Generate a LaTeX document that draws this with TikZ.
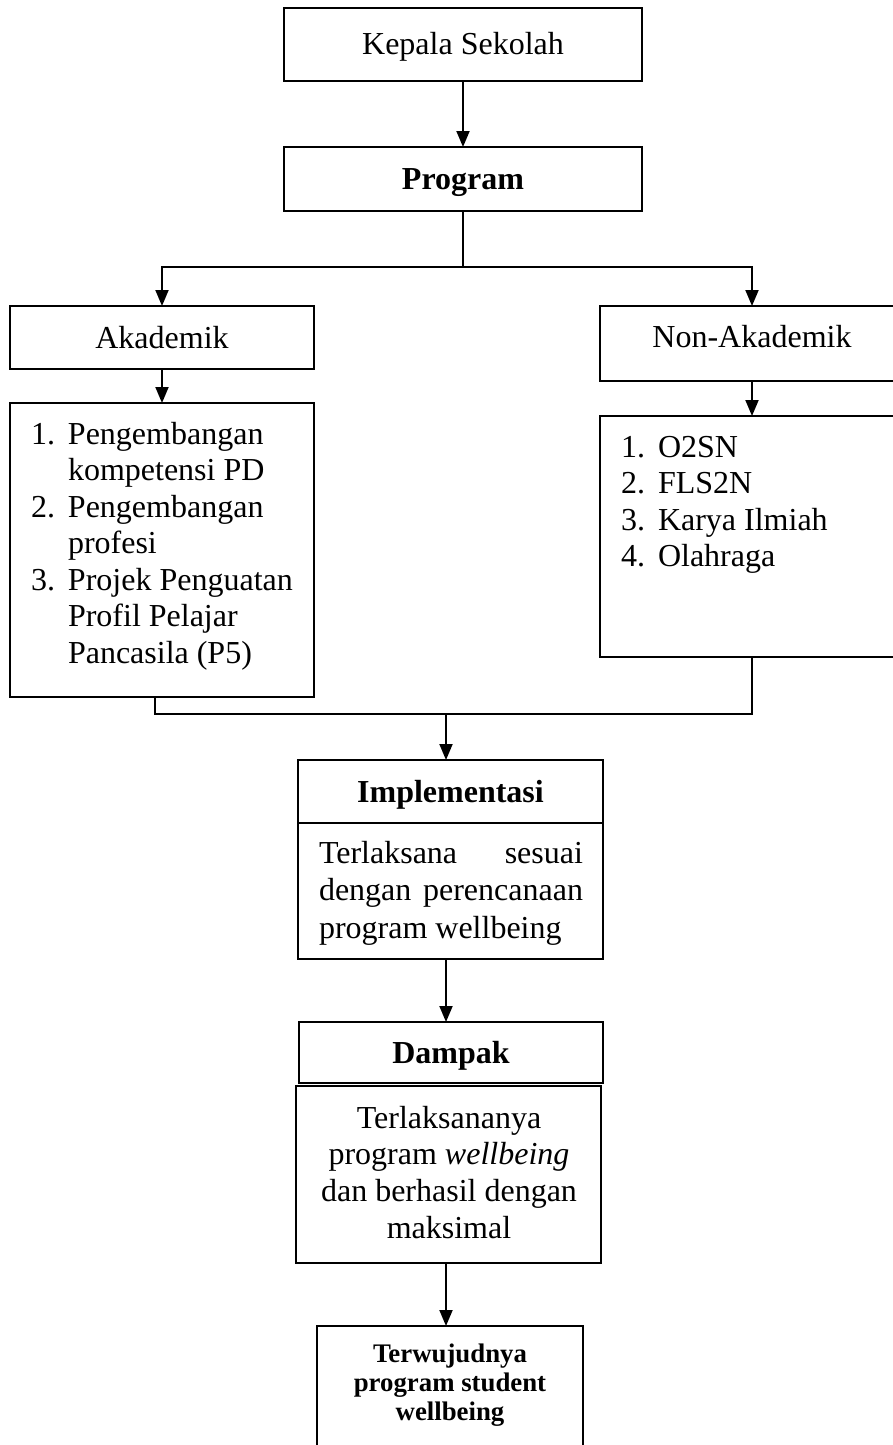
\documentclass[tikz,border=0pt]{standalone}
\usepackage{fontspec}
\setmainfont{Liberation Serif}
\usetikzlibrary{arrows.meta,calc}
\newcommand\mainsz{\fontsize{32pt}{36.5pt}\selectfont}
\newcommand\implsz{\fontsize{32pt}{37.5pt}\selectfont}
\newcommand\dampsz{\fontsize{32pt}{36.7pt}\selectfont}
\newcommand\hasilsz{\fontsize{26.8pt}{29pt}\selectfont\bfseries}
\begin{document}
\begin{tikzpicture}[x=1pt,y=-1pt,
  box/.style={draw, line width=1.9pt, inner sep=0pt, outer sep=0pt, anchor=north west,
    text height=21pt, text depth=0pt, font=\mainsz},
  arr/.style={-{Triangle[width=13pt,length=16pt]}, line width=1.9pt},
  ln/.style={line width=1.9pt},
  txt/.style={inner sep=0pt, outer sep=0pt}]
\useasboundingbox (0,0) rectangle (893,1445);
% top
\node[box, minimum width=358pt, minimum height=73pt] (kepala) at (284,8) {Kepala Sekolah};
\node[box, minimum width=358pt, minimum height=64pt, font=\mainsz\bfseries] (program) at (284,147) {Program};
% branches
\node[box, minimum width=304pt, minimum height=63pt] (akad) at (10,306) {Akademik};
\node[box, minimum width=304pt, minimum height=294pt] (aklist) at (10,403) {};
\node[box, minimum width=304pt, minimum height=75pt, text depth=13pt] (nonak) at (600,306) {Non-Akademik};
\node[box, minimum width=304pt, minimum height=241pt] (nalist) at (600,416) {};
\node[txt, anchor=base west, font=\mainsz] (aktext) at (31,444)
  {\begin{tabular}[t]{@{}l@{}l@{}}\makebox[37pt][l]{1.} & Pengembangan\\ & kompetensi PD\\
   \makebox[37pt][l]{2.} & Pengembangan\\ & profesi\\
   \makebox[37pt][l]{3.} & Projek Penguatan\\ & Profil Pelajar\\ & Pancasila (P5)\end{tabular}};
\node[txt, anchor=base west, font=\mainsz] (natext) at (621,457)
  {\begin{tabular}[t]{@{}l@{}l@{}}\makebox[37pt][l]{1.} & O2SN\\
   \makebox[37pt][l]{2.} & FLS2N\\
   \makebox[37pt][l]{3.} & Karya Ilmiah\\
   \makebox[37pt][l]{4.} & Olahraga\end{tabular}};
% implementasi
\node[box, minimum width=305pt, minimum height=63pt, font=\mainsz\bfseries] (implh) at (298,760) {Implementasi};
\node[box, minimum width=305pt, minimum height=136pt] (implb) at (298,823) {};
\node[txt, anchor=base west] (impltext) at (319,863)
  {\parbox[t]{264pt}{\implsz Terlaksana sesuai\linebreak dengan perencanaan\linebreak program wellbeing}};
% dampak
\node[box, minimum width=304pt, minimum height=61pt, font=\mainsz\bfseries] (damph) at (299,1022) {Dampak};
\node[box, minimum width=305pt, minimum height=177pt] (dampb) at (296,1086) {};
\node[txt, anchor=base, font=\dampsz] (damptext) at (449,1128)
  {\begin{tabular}[t]{@{}c@{}}Terlaksananya\\ program \textit{wellbeing}\\ dan berhasil dengan\\ maksimal\end{tabular}};
% hasil
\node[box, minimum width=266pt, minimum height=140pt] (hasil) at (317,1326) {};
\node[txt, anchor=base, font=\hasilsz] (hasiltext) at (450,1362)
  {\begin{tabular}[t]{@{}c@{}}Terwujudnya\\ program student\\ wellbeing\end{tabular}};
% connectors
\draw[arr] (kepala) -- (program);
\coordinate (br) at ($(program.south)+(0,56)$);
\draw[ln] (program.south) -- (br);
\draw[arr] (br) -| (akad.north);
\draw[arr] (br) -| (nonak.north);
\draw[arr] (akad) -- (aklist);
\draw[arr] (nonak) -- (nalist);
\coordinate (ml) at (155,714);
\coordinate (mr) at (752,714);
\coordinate (mg) at (446,714);
\draw[ln] (aklist.south -| ml) -- (ml) -- (mr) -- (nalist.south);
\draw[arr] (mg) -- (mg |- implh.north);
\draw[arr] (implb.south -| mg) -- (damph.north -| mg);
\draw[arr] (dampb.south -| mg) -- (hasil.north -| mg);
\end{tikzpicture}
\end{document}
